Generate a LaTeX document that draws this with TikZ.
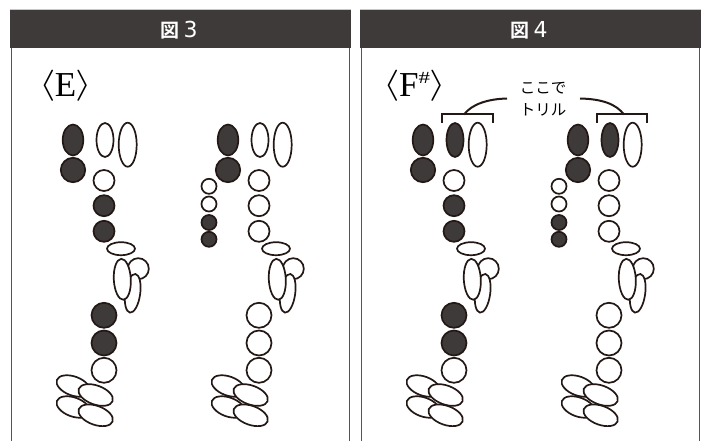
\documentclass[tikz,border=0pt]{standalone}
\usepackage{fontspec}
\setmainfont{Liberation Serif}
\newfontfamily\cjkb{Noto Sans CJK JP Bold}
\newfontfamily\cjkl{Noto Sans CJK JP}
\newfontfamily\lat{DejaVu Sans}
\definecolor{ink}{HTML}{231815}
\definecolor{dark}{HTML}{3E3A39}
\definecolor{frame}{HTML}{555555}
\tikzset{
  wk/.style={draw=ink,fill=white,line width=1.7pt},
  bk/.style={draw=ink,fill=dark,line width=1.7pt},
  head/.style={fill=dark,draw=none},
  headtxt/.style={text=white,font=\cjkb\fontsize{19pt}{19pt}\selectfont,inner sep=0pt},
  note/.style={font=\cjkl\fontsize{15.5pt}{22pt}\selectfont,align=center,inner sep=0pt},
  lead/.style={draw=ink,line width=2pt},
  ttl/.style={inner sep=0pt,anchor=base,font=\fontsize{35pt}{35pt}\selectfont},
}
\newcommand{\la}{\raisebox{3pt}{\scalebox{1.7}[1.25]{$\langle$}}}
\newcommand{\ra}{\raisebox{3pt}{\scalebox{1.7}[1.25]{$\rangle$}}}
\newcommand{\fingA}[4]{%
 \begin{scope}[xshift=#1]
  \draw[bk] (73,140) ellipse [x radius=10.3,y radius=15.5];
  \draw[bk] (73,170) circle [radius=12.2];
  \draw[#2] (105,140) ellipse [x radius=8.5,y radius=17];
  \draw[wk] (127.7,144.7) ellipse [x radius=9,y radius=22];
  \draw[wk] (104,180.5) circle [radius=10.5];
  \draw[#3] (104,205.7) circle [radius=10.5];
  \draw[#3] (104,231.3) circle [radius=10.5];
  \draw[wk] (121,248.7) ellipse [x radius=14,y radius=6.5];
  \draw[wk] (138.3,268.7) circle [radius=10.5];
  \draw[wk,rotate around={-8:(132.7,293.3)}] (132.7,293.3) ellipse [x radius=7.5,y radius=19.5];
  \draw[wk,rotate around={3:(122.3,279.3)}] (122.3,279.3) ellipse [x radius=8.5,y radius=20.5];
  \draw[#4] (104,315.3) circle [radius=12.5];
  \draw[#4] (104,343) circle [radius=12.5];
  \draw[wk] (104,370.3) circle [radius=12.5];
  \draw[wk,rotate around={-20:(73.3,386)}] (73.3,386) ellipse [x radius=17.5,y radius=9.5];
  \draw[wk,rotate around={-20:(73.3,407)}] (73.3,407) ellipse [x radius=17.5,y radius=9.5];
  \draw[wk,rotate around={-20:(95.7,395)}] (95.7,395) ellipse [x radius=18,y radius=9.5];
  \draw[wk,rotate around={-20:(95.7,415.3)}] (95.7,415.3) ellipse [x radius=18,y radius=9.5];
 \end{scope}}
\newcommand{\smallkeys}[1]{%
 \begin{scope}[xshift=#1]
  \draw[wk] (209,186.3) circle [radius=7.5];
  \draw[wk] (209,204) circle [radius=7.5];
  \draw[bk] (209,222.5) circle [radius=7.5];
  \draw[bk] (209,239.3) circle [radius=7.5];
 \end{scope}}
\begin{document}
\begin{tikzpicture}[x=1pt,y=-1pt]
\useasboundingbox (0,0) rectangle (701,441);
\fill[white] (0,0) rectangle (701,441);
% panels
\draw[frame,line width=1.5pt] (11.5,48) -- (11.5,441);
\draw[frame,line width=1.5pt] (349.3,48) -- (349.3,441);
\draw[frame,line width=1.5pt] (361.3,48) -- (361.3,441);
\draw[frame,line width=1.5pt] (699.5,48) -- (699.5,441);
\fill[black!22] (10,9) rectangle (351,10);
\fill[black!22] (360,9) rectangle (701,10);
\fill[head] (10,10) rectangle (351,48);
\fill[head] (360,10) rectangle (701,48);
\node[headtxt] (h3) at (179,30) {図\hspace{4pt}{\lat\fontsize{22pt}{22pt}\selectfont 3}};
\node[headtxt] (h4) at (529,30) {図\hspace{4pt}{\lat\fontsize{22pt}{22pt}\selectfont 4}};
% titles
\node[ttl] (te) at (65.5,97) {\la\hspace{-1pt}E\hspace{-1pt}\ra};
\node[ttl] (tf) at (415,97) {\la\hspace{-1pt}F\raisebox{13pt}{\scalebox{1.35}[1]{\fontsize{17pt}{17pt}\selectfont\#}}\ra};
% fingerings
\fingA{0}{wk}{bk}{bk}
\fingA{155}{wk}{wk}{wk}
\smallkeys{0}
\fingA{350}{bk}{bk}{bk}
\fingA{505}{bk}{wk}{wk}
\smallkeys{350}
% trill note
\node[note] (tr) at (543,99) {ここで\\トリル};
\draw[lead] (442,123) -- (442,114.5) -- (493,114.5) -- (493,123);
\draw[lead] (596.5,123) -- (596.5,114.5) -- (647,114.5) -- (647,123);
\coordinate (bl) at (464,114.5);
\coordinate (br) at (624,114.5);
\draw[lead] (bl) .. controls (472,104) and (488,99) .. (507,98.5);
\draw[lead] (br) .. controls (616,104) and (602,99) .. (580,98.5);
\end{tikzpicture}
\end{document}
